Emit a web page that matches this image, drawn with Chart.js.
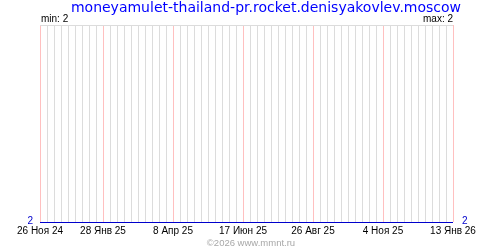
<!DOCTYPE html>
<html>
<head>
<meta charset="utf-8">
<script src="https://cdn.jsdelivr.net/npm/chart.js@4"></script>
<style>
  html, body { margin: 0; padding: 0; background: #fff; }
  #wrap { width: 500px; height: 250px; }
</style>
</head>
<body>
<div id="wrap"><canvas id="chart" width="500" height="250"></canvas></div>
<script>
// Chart data
const title = 'moneyamulet-thailand-pr.rocket.denisyakovlev.moscow';
const footer = '\u00a92026 www.mmnt.ru';
const startDate = '2024-11-26';
const endDate = '2026-01-13';
const pointDates = ['2024-11-26', '2025-01-28', '2025-04-08', '2025-06-17', '2025-08-26', '2025-11-04', '2026-01-13'];
const pointValues = [2, 2, 2, 2, 2, 2, 2];
const tickDates = ['2024-11-26', '2025-01-28', '2025-04-08', '2025-06-17', '2025-08-26', '2025-11-04', '2026-01-13'];
const tickLabels = ['26 Ноя 24', '28 Янв 25', '8 Апр 25', '17 Июн 25', '26 Авг 25', '4 Ноя 25', '13 Янв 26'];
const gridStepDays = 7;

// day offset from the first date
const DAY = 86400000;
function dayOf(s) {
    return Math.round((Date.parse(s) - Date.parse(startDate)) / DAY);
}
const lastDay = dayOf(endDate);
const majorDays = tickDates.map(dayOf);
const minVal = Math.min(...pointValues);
const maxVal = Math.max(...pointValues);

// grid colours, one per weekly line
const gridColors = [];
for (let d = 0; d <= lastDay; d += gridStepDays) {
    gridColors.push(majorDays.includes(d) ? '#ffc0c0' : '#dcdcdc');
}

// keep the 1px data line on a whole pixel row
const crispLine = {
    id: 'crisp',
    beforeDatasetsDraw(chart) {
        chart.ctx.save();
        chart.ctx.translate(0, 0.5);
    },
    afterDatasetsDraw(chart) {
        chart.ctx.restore();
    }
};

// Extra text: title, min/max, y labels, footer
const textPlugin = {
    id: 'texts',
    afterDraw(chart) {
        const ctx = chart.ctx;
        const area = chart.chartArea;
        const yPix = chart.scales.y.getPixelForValue(minVal);
        ctx.save();
        ctx.textBaseline = 'alphabetic';

        ctx.font = '14px "DejaVu Sans"';
        ctx.fillStyle = '#0000ff';
        ctx.textAlign = 'center';
        ctx.fillText(title, 266, 12);

        ctx.font = '10px "Liberation Sans"';
        ctx.fillStyle = '#000';
        ctx.textAlign = 'left';
        ctx.fillText('min: ' + minVal, area.left + 1, 22);
        ctx.textAlign = 'right';
        ctx.fillText('max: ' + maxVal, area.right, 22);

        ctx.fillStyle = '#0000cc';
        ctx.textBaseline = 'middle';
        ctx.textAlign = 'right';
        ctx.fillText(String(minVal), area.left - 7, yPix - 1);
        ctx.textAlign = 'left';
        ctx.fillText(String(minVal), area.right + 9, yPix - 1);

        ctx.textBaseline = 'alphabetic';
        ctx.textAlign = 'center';
        ctx.font = '9.5px "Liberation Sans"';
        ctx.fillStyle = '#a8a8a8';
        ctx.fillText(footer, 251, 246);
        ctx.restore();
    }
};

const ctx = document.getElementById('chart').getContext('2d');
const chart = new Chart(ctx, {
    type: 'line',
    data: {
        datasets: [{
            data: pointDates.map((d, i) => ({ x: dayOf(d), y: pointValues[i] })),
            borderColor: '#0000cc',
            borderWidth: 1,
            pointRadius: 0,
            tension: 0,
            clip: false
        }]
    },
    options: {
        responsive: false,
        animation: false,
        layout: { padding: { left: 40, right: 47, top: 25, bottom: 10 } },
        plugins: {
            legend: { display: false },
            tooltip: { enabled: false }
        },
        scales: {
            x: {
                type: 'linear',
                min: 0,
                max: lastDay,
                afterBuildTicks(scale) {
                    const ticks = [];
                    for (let d = 0; d <= lastDay; d += gridStepDays) ticks.push({ value: d });
                    scale.ticks = ticks;
                },
                grid: {
                    drawTicks: false,
                    color: gridColors
                },
                border: { display: false },
                ticks: {
                    autoSkip: false,
                    maxRotation: 0,
                    padding: 3,
                    color: '#000',
                    font: { family: 'Liberation Sans', size: 10 },
                    callback: v => {
                        const i = majorDays.indexOf(Math.round(v));
                        return i >= 0 ? tickLabels[i] : '';
                    }
                }
            },
            y: {
                min: minVal,
                max: minVal + 1,
                afterBuildTicks(scale) {
                    scale.ticks = [{ value: minVal + 1 }];
                },
                grid: { drawTicks: false, color: '#dcdcdc' },
                border: { display: false },
                ticks: { display: false }
            }
        }
    },
    plugins: [crispLine, textPlugin]
});
</script>
</body>
</html>
